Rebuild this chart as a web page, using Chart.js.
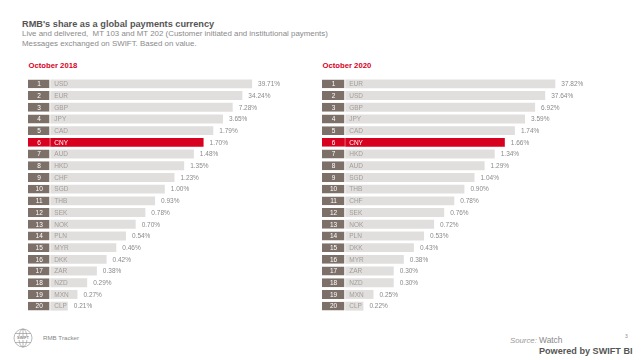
<!DOCTYPE html>
<html>
<head>
<meta charset="utf-8">
<script src="https://cdn.jsdelivr.net/npm/chart.js@4/dist/chart.umd.min.js"></script>
<style>
  body { margin: 0; width: 641px; height: 360px; background: #fff; position: relative; overflow: hidden;
         font-family: "Liberation Sans", Arial, sans-serif; }
  .t { position: absolute; white-space: nowrap; line-height: 1; }
  canvas { position: absolute; }
</style>
</head>
<body>
<div class="t" style="left:22px;top:19.5px;font-size:9.2px;font-weight:bold;color:#555;">RMB's share as a global payments currency</div>
<div class="t" style="left:22px;top:29.5px;font-size:7.9px;color:#8a8a8a;">Live and delivered,&nbsp; MT 103 and MT 202 (Customer initiated and institutional payments)</div>
<div class="t" style="left:22px;top:39.7px;font-size:7.9px;color:#8a8a8a;">Messages exchanged on SWIFT. Based on value.</div>

<div class="t" style="left:28.5px;top:62px;font-size:7.7px;font-weight:bold;color:#d7001e;">October 2018</div>
<div class="t" style="left:322.5px;top:62px;font-size:7.7px;font-weight:bold;color:#d7001e;">October 2020</div>

<canvas id="left" width="290" height="234" style="left:28px;top:78px;"></canvas>
<canvas id="right" width="310" height="234" style="left:322px;top:78px;"></canvas>

<svg style="position:absolute;left:13px;top:328px;" width="20" height="20" viewBox="0 0 20 20">
  <g fill="none" stroke="#9a9a9a" stroke-width="0.7">
    <circle cx="10" cy="10" r="9"/>
    <ellipse cx="10" cy="10" rx="4" ry="9"/>
    <line x1="10" y1="1" x2="10" y2="19"/>
    <line x1="2" y1="5.5" x2="18" y2="5.5"/>
    <line x1="2" y1="14.5" x2="18" y2="14.5"/>
  </g>
  <rect x="3" y="8" width="14" height="4" fill="#fff"/>
  <text x="10" y="11.3" font-size="3.8" font-weight="bold" text-anchor="middle" fill="#888" font-family="Liberation Sans">SWIFT</text>
</svg>
<div class="t" style="left:43px;top:335px;font-size:6.2px;color:#888;">RMB Tracker</div>

<div class="t" style="left:510px;top:336px;font-size:7.8px;color:#999;"><i>Source:</i> <span style="font-size:8.4px;color:#888;">Watch</span></div>
<div class="t" style="left:625px;top:334px;font-size:5px;color:#888;">3</div>
<div class="t" style="left:539px;top:347px;font-size:9.1px;font-weight:bold;color:#555;">Powered by SWIFT BI</div>

<script>
// October 2018
const ranks2018 = [1, 2, 3, 4, 5, 6, 7, 8, 9, 10, 11, 12, 13, 14, 15, 16, 17, 18, 19, 20];
const currencies2018 = ['USD', 'EUR', 'GBP', 'JPY', 'CAD', 'CNY', 'AUD', 'HKD', 'CHF', 'SGD',
                        'THB', 'SEK', 'NOK', 'PLN', 'MYR', 'DKK', 'ZAR', 'NZD', 'MXN', 'CLP'];
const shares2018 = [39.71, 34.24, 7.28, 3.65, 1.79, 1.70, 1.48, 1.35, 1.23, 1.00,
                    0.93, 0.78, 0.70, 0.54, 0.46, 0.42, 0.38, 0.29, 0.27, 0.21];

// October 2020
const ranks2020 = [1, 2, 3, 4, 5, 6, 7, 8, 9, 10, 11, 12, 13, 14, 15, 16, 17, 18, 19, 20];
const currencies2020 = ['EUR', 'USD', 'GBP', 'JPY', 'CAD', 'CNY', 'HKD', 'AUD', 'SGD', 'THB',
                        'CHF', 'SEK', 'NOK', 'PLN', 'DKK', 'MYR', 'ZAR', 'NZD', 'MXN', 'CLP'];
const shares2020 = [37.82, 37.64, 6.92, 3.59, 1.74, 1.66, 1.34, 1.29, 1.04, 0.90,
                    0.78, 0.76, 0.72, 0.53, 0.43, 0.38, 0.30, 0.30, 0.25, 0.22];

const highlight = 'CNY';
const RED = '#d7001e';
const GREY = '#e1dfdd';
const BOX = '#7d7069';
const BOX_UNITS = 2.3;

// bars are ranking bars: length follows the rank (ties share a length)
function rankLengths(ranks, shares) {
    const n = ranks.length;
    return ranks.map(function (r, i) {
        let k = i;
        while (k > 0 && shares[k - 1] === shares[i]) k--;
        return n + 1.8 - ranks[k];
    });
}

const labelPlugin = {
    id: 'rowLabels',
    afterDatasetsDraw: function (chart, args, d) {
        const ctx = chart.ctx;
        const boxes = chart.getDatasetMeta(0).data;
        const bars = chart.getDatasetMeta(1).data;
        ctx.save();
        ctx.textBaseline = 'middle';
        ctx.font = '6.5px "Liberation Sans", Arial, sans-serif';
        for (let i = 0; i < bars.length; i++) {
            const hot = d.currencies[i] === highlight;
            const b = boxes[i];
            ctx.fillStyle = '#fff';
            ctx.textAlign = 'center';
            ctx.fillText(String(d.ranks[i]), (b.x + b.base) / 2, b.y + 0.5);
            ctx.textAlign = 'left';
            ctx.fillStyle = hot ? '#fff' : '#a39d99';
            ctx.fillText(d.currencies[i], bars[i].base + 4, bars[i].y + 0.5);
            ctx.fillStyle = '#8a8a8a';
            ctx.fillText(d.shares[i].toFixed(2) + '%', bars[i].x + 6, bars[i].y + 0.5);
        }
        ctx.restore();
    }
};

function makeChart(id, ranks, currencies, shares, pxPerUnit) {
    const canvas = document.getElementById(id);
    const lengths = rankLengths(ranks, shares);
    return new Chart(canvas.getContext('2d'), {
        type: 'bar',
        data: {
            labels: currencies,
            datasets: [
                {
                    data: ranks.map(function () { return [-BOX_UNITS, 0]; }),
                    backgroundColor: currencies.map(function (c) { return c === highlight ? RED : BOX; }),
                    borderColor: currencies.map(function (c) { return c === highlight ? RED : '#fff'; }),
                    borderWidth: { top: 0, bottom: 0, left: 0, right: 1 },
                    borderSkipped: false,
                    grouped: false,
                    barPercentage: 0.76,
                    categoryPercentage: 1
                },
                {
                    data: lengths,
                    backgroundColor: currencies.map(function (c) { return c === highlight ? RED : GREY; }),
                    borderWidth: 0,
                    grouped: false,
                    barPercentage: 0.76,
                    categoryPercentage: 1
                }
            ]
        },
        options: {
            indexAxis: 'y',
            responsive: false,
            animation: false,
            layout: { padding: 0 },
            scales: {
                x: { type: 'linear', display: false, min: -BOX_UNITS, max: canvas.width / pxPerUnit - BOX_UNITS },
                y: { type: 'category', display: false, offset: true }
            },
            plugins: {
                legend: { display: false },
                tooltip: { enabled: false },
                rowLabels: { ranks: ranks, currencies: currencies, shares: shares }
            }
        },
        plugins: [labelPlugin]
    });
}

makeChart('left', ranks2018, currencies2018, shares2018, 9.7);
makeChart('right', ranks2020, currencies2020, shares2020, 10.1);
</script>
</body>
</html>
